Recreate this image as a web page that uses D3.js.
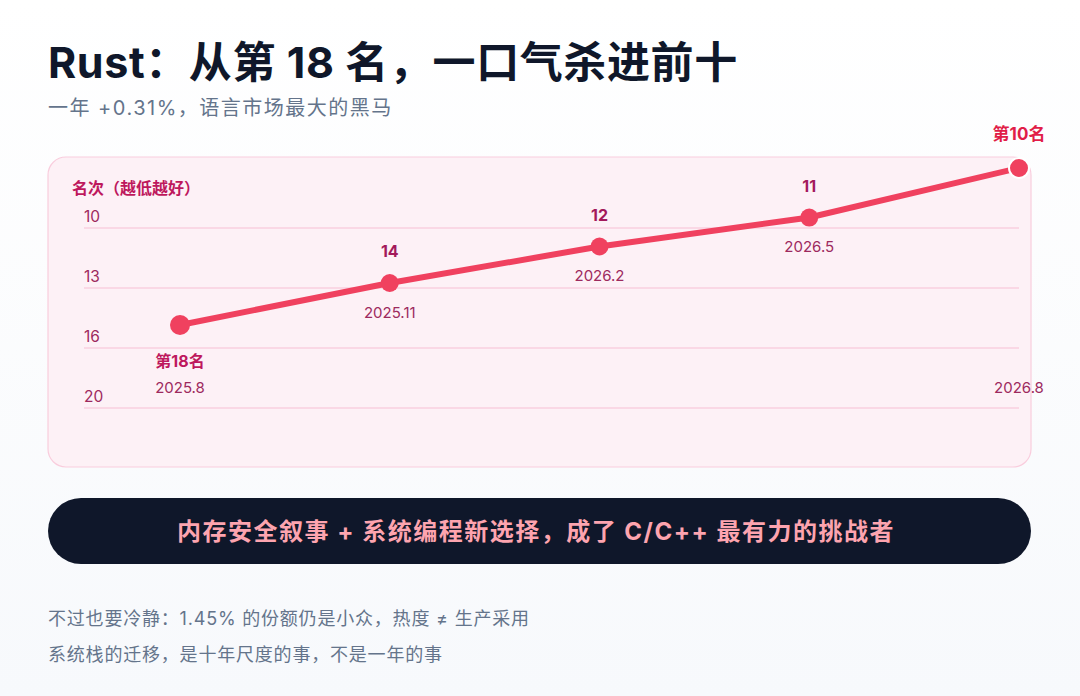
<!DOCTYPE html>
<html>
<head>
<meta charset="utf-8">
<script src="https://cdn.jsdelivr.net/npm/d3@7"></script>
<style>
  html, body { margin: 0; padding: 0; }
  body { width: 1080px; height: 696px; overflow: hidden; }
  svg { display: block; font-family: "Inter", "Noto Sans CJK SC", "Noto Sans", sans-serif; }
</style>
</head>
<body>
<div id="chart"></div>
<script>
// data
var dates = ["2025.8", "2025.11", "2026.2", "2026.5", "2026.8"];
var ranks = [18, 14, 12, 11, 10];
var rankTicks = [10, 13, 16, 20];

var titleText = "Rust：从第 18 名，一口气杀进前十";
var subtitleText = "一年 +0.31%，语言市场最大的黑马";
var axisTitle = "名次（越低越好）";
var bannerText = "内存安全叙事 + 系统编程新选择，成了 C/C++ 最有力的挑战者";
var notes = [
  "不过也要冷静：1.45% 的份额仍是小众，热度 ≠ 生产采用",
  "系统栈的迁移，是十年尺度的事，不是一年的事"
];

var W = 1080, H = 696;

var svg = d3.select("#chart").append("svg")
    .attr("width", W)
    .attr("height", H);

// background
var defs = svg.append("defs");
var bg = defs.append("linearGradient")
    .attr("id", "bg").attr("x1", 0).attr("y1", 0).attr("x2", 0).attr("y2", 1);
bg.append("stop").attr("offset", "0%").attr("stop-color", "#ffffff");
bg.append("stop").attr("offset", "100%").attr("stop-color", "#f7f9fc");
svg.append("rect").attr("width", W).attr("height", H).attr("fill", "url(#bg)");

// title + subtitle
svg.append("text")
    .attr("x", 48).attr("y", 62)
    .attr("dominant-baseline", "central")
    .style("font-size", "43px").style("font-weight", 700)
    .style("letter-spacing", "0.6px")
    .attr("fill", "#0f172a")
    .text(titleText);

svg.append("text")
    .attr("x", 48).attr("y", 108)
    .attr("dominant-baseline", "central")
    .style("font-size", "20px").style("letter-spacing", "1.5px")
    .attr("fill", "#64748b")
    .text(subtitleText);

// chart panel
var panel = {x: 48, y: 157, w: 983, h: 310};
svg.append("rect")
    .attr("x", panel.x).attr("y", panel.y)
    .attr("width", panel.w).attr("height", panel.h)
    .attr("rx", 18)
    .attr("fill", "#fdf1f6")
    .attr("stroke", "#f9cddd")
    .attr("stroke-width", 1.2);

svg.append("text")
    .attr("x", 72).attr("y", 188)
    .attr("dominant-baseline", "central")
    .style("font-size", "16px").style("font-weight", 700)
    .attr("fill", "#be185d")
    .text(axisTitle);

// scales
var x = d3.scalePoint()
    .domain(dates)
    .range([180, 1019]);

// rank axis shown as evenly spaced rows
var gridY = d3.scalePoint()
    .domain(rankTicks)
    .range([228, 408]);

// points: log-ish spacing of rank (offset so rank 10 sits at the top)
var y = d3.scaleLog()
    .domain([1, 9])
    .range([168, 325]);
function yRank(r) { return y(r - 9); }

// grid rows
var grid = svg.append("g");
grid.selectAll("line")
    .data(rankTicks)
    .enter().append("line")
    .attr("x1", 84).attr("x2", 1019)
    .attr("y1", function(d) { return gridY(d); })
    .attr("y2", function(d) { return gridY(d); })
    .attr("stroke", "#f8cfdf")
    .attr("stroke-width", 1.5);

grid.selectAll("text")
    .data(rankTicks)
    .enter().append("text")
    .attr("x", 84)
    .attr("y", function(d) { return gridY(d) - 12; })
    .attr("dominant-baseline", "central")
    .style("font-size", "15.5px")
    .attr("fill", "#9d2a5e")
    .text(function(d) { return d; });

var pts = dates.map(function(d, i) { return {date: d, rank: ranks[i], i: i}; });
var last = pts.length - 1;

// the line
svg.append("path")
    .datum(pts)
    .attr("fill", "none")
    .attr("stroke", "#f0415f")
    .attr("stroke-width", 6)
    .attr("stroke-linecap", "round")
    .attr("d", d3.line()
      .x(function(d) { return x(d.date); })
      .y(function(d) { return yRank(d.rank); })
    );

// dots
svg.selectAll("circle.dot")
    .data(pts)
    .enter().append("circle")
    .attr("class", "dot")
    .attr("cx", function(d) { return x(d.date); })
    .attr("cy", function(d) { return yRank(d.rank); })
    .attr("r", function(d) { return (d.i === 0 || d.i === last) ? 10 : 9; })
    .attr("fill", "#f0415f")
    .attr("stroke", function(d) { return d.i === last ? "#ffffff" : "none"; })
    .attr("stroke-width", 2);

// rank labels
var bottomRow = yRank(ranks[0]) + 62;

svg.selectAll("text.val")
    .data(pts)
    .enter().append("text")
    .attr("class", "val")
    .attr("x", function(d) { return x(d.date); })
    .attr("y", function(d) {
      if (d.i === 0) return yRank(d.rank) + 36;
      if (d.i === last) return yRank(d.rank) - 34;
      return yRank(d.rank) - 32;
    })
    .attr("text-anchor", "middle")
    .attr("dominant-baseline", "central")
    .style("font-size", function(d) { return d.i === last ? "17px" : "16px"; })
    .style("font-weight", 700)
    .attr("fill", function(d) {
      if (d.i === last) return "#e11d48";
      if (d.i === 0) return "#be185d";
      return "#a3195b";
    })
    .text(function(d) {
      return (d.i === 0 || d.i === last) ? "第" + d.rank + "名" : d.rank;
    });

// date labels
svg.selectAll("text.date")
    .data(pts)
    .enter().append("text")
    .attr("class", "date")
    .attr("x", function(d) { return x(d.date); })
    .attr("y", function(d) {
      return (d.i === 0 || d.i === last) ? bottomRow : yRank(d.rank) + 29;
    })
    .attr("text-anchor", "middle")
    .attr("dominant-baseline", "central")
    .style("font-size", "15px")
    .attr("fill", "#9d2a5e")
    .text(function(d) { return d.date; });

// dark banner
svg.append("rect")
    .attr("x", 48).attr("y", 498)
    .attr("width", 983).attr("height", 66)
    .attr("rx", 33)
    .attr("fill", "#0f172a");

svg.append("text")
    .attr("x", 536).attr("y", 531)
    .attr("text-anchor", "middle")
    .attr("dominant-baseline", "central")
    .style("font-size", "24px").style("font-weight", 700)
    .style("letter-spacing", "1.5px")
    .attr("fill", "#fda4af")
    .text(bannerText);

// footnotes
svg.selectAll("text.note")
    .data(notes)
    .enter().append("text")
    .attr("class", "note")
    .attr("x", 48)
    .attr("y", function(d, i) { return 618 + i * 36; })
    .attr("dominant-baseline", "central")
    .style("font-size", "18px").style("letter-spacing", "0.8px")
    .attr("fill", "#64748b")
    .text(function(d) { return d; });
</script>
</body>
</html>
